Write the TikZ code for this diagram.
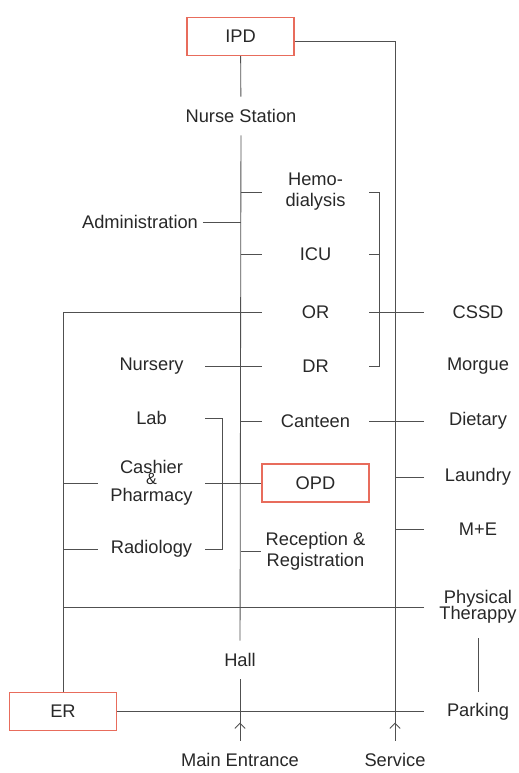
\documentclass[tikz,border=0pt]{standalone}
\usepackage{fontspec}
\setmainfont{Liberation Sans}
\usetikzlibrary{arrows.meta, positioning}
\definecolor{boxred}{RGB}{232,108,92}
\definecolor{inkgray}{RGB}{40,40,40}
\definecolor{linegray}{RGB}{80,80,80}

\begin{document}
\begin{tikzpicture}[
	  x=0.025cm, y=-0.025cm,
	  every node/.style={font=\fontsize{13}{15}\selectfont, text=inkgray},
	  room/.style={rectangle, minimum width=2.675cm, minimum height=0.95cm, align=center},
	  dept/.style={room, draw=boxred, line width=0.9pt},
	  wall/.style={draw=linegray, line width=0.6pt},
	  entry/.style={wall, -{Straight Barb[length=1.3mm, width=2.6mm]}}
	]
	\useasboundingbox (0,0) rectangle (518,773);

	% main spine
	\node (ipd) [dept] at (240.5,36.5) {IPD};
	\node (nurse) [room] at (241,116) {Nurse Station};
	\node (hall) [room] at (240,660) {Hall};
	\node (main) [room] at (240,760) {Main Entrance};
	\node (service) [room] at (395,760) {Service};

	% middle column
	\node (hemo) [room] at (315.5,192) {Hemo-\\dialysis};
	\node (icu) [room] at (315.5,254) {ICU};
	\node (or) [room] at (315.5,312) {OR};
	\node (dr) [room] at (315.5,366) {DR};
	\node (canteen) [room] at (315.5,421) {Canteen};
	\node (opd) [dept] at (315.5,483) {OPD};
	\node (reception) [room] at (315.5,551) {Reception \&\\Registration};

	% left column
	\node (admin) at (140,222) {Administration};
	\node (nursery) [room] at (151.5,366) {Nursery};
	\node (lab) [room] at (151.5,418) {Lab};
	\node (cashier) [room] at (151.5,483) {Cashier\\[-7pt]{\fontsize{11.5}{12}\selectfont\&}\\[-3pt]Pharmacy};
	\node (radiology) [room] at (151.5,549) {Radiology};
	\node (er) [dept] at (63,711.5) {ER};

	% right column
	\node (cssd) [room] at (478,312) {CSSD};
	\node (morgue) [room] at (478,366) {Morgue};
	\node (dietary) [room] at (478,421) {Dietary};
	\node (laundry) [room] at (478,477) {Laundry};
	\node (me) [room] at (478,529) {M+E};
	\node (physical) [room] at (478,607) {Physical\\[-4pt]Therappy};
	\node (parking) [room] at (478,711.5) {Parking};

	\draw [wall] (ipd) -- (nurse);
	\draw [wall] (nurse) -- (hall);
	\draw [wall] (hall) -- (main);
	\draw [entry] (main.north) -- ++(0,-18);
	\draw [wall] ([yshift=-0.13cm]ipd.east) -| (service);
	\draw [entry] (service.north) -- ++(0,-18);

	\draw [wall] (admin.east) -- (admin.east -| nurse);
	\draw [wall] (hemo.west) -- (hemo.west -| nurse);
	\draw [wall] (icu.west) -- (icu.west -| nurse);
	\draw [wall] (hemo.east) -- ++(10,0) |- (dr.east);
	\draw [wall] (icu.east) -- ++(10,0);
	\draw [wall] (or.west) -| (er);
	\draw [wall] (or.east) -- (cssd.west);
	\draw [wall] (nursery.east) -- (dr.west);
	\draw [wall] (lab.east) -- ++(17,0) |- (radiology.east);
	\draw [wall] (canteen.west) -- (canteen.west -| nurse);
	\draw [wall] (canteen.east) -- (dietary.west);
	\draw [wall] (cashier.east) -- (opd.west);
	\draw [wall] (cashier.west) -- (cashier.west -| er);
	\draw [wall] (radiology.west) -- (radiology.west -| er);
	\draw [wall] (reception.west) -- (reception.west -| nurse);
	\draw [wall] (laundry.west) -- (laundry.west -| service);
	\draw [wall] (me.west) -- (me.west -| service);
	\draw [wall] (physical.west) -- (physical.west -| er);
	\draw [wall, shorten <=0.25cm] (physical) -- (parking);
	\draw [wall] (er) -- (parking);

\end{tikzpicture}
\end{document}
